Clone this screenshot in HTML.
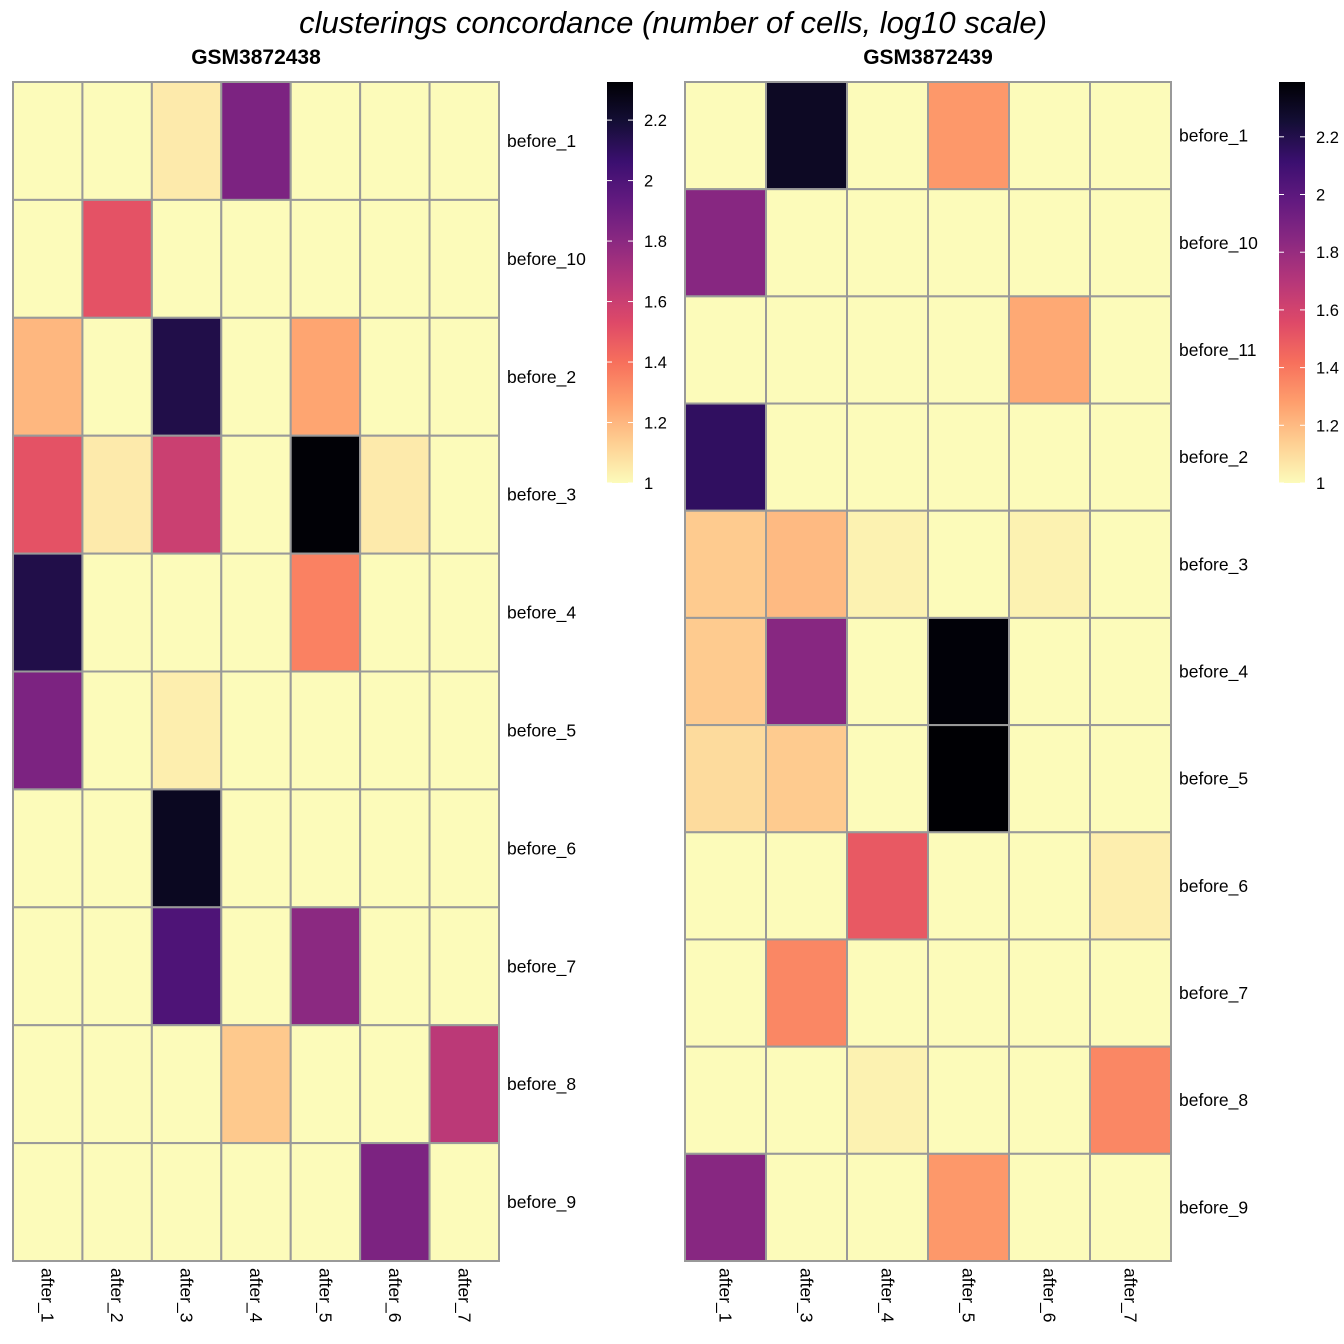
<!DOCTYPE html>
<html><head><meta charset="utf-8"><style>
html,body{margin:0;padding:0;background:#fff;}
svg{display:block;font-family:"Liberation Sans",Arial,sans-serif;}
</style></head><body>
<svg id="chart" width="1344" height="1344" viewBox="0 0 1344 1344">
<defs>
<linearGradient id="g1" x1="0" y1="1" x2="0" y2="0"></linearGradient>
<linearGradient id="g2" x1="0" y1="1" x2="0" y2="0"></linearGradient>
</defs>
<text x="673" y="33" text-anchor="middle" font-size="31" font-style="italic">clusterings concordance (number of cells, log10 scale)</text>
</svg>
<script>
const leftRows=["before_1","before_10","before_2","before_3","before_4","before_5","before_6","before_7","before_8","before_9"];
const leftCols=["after_1","after_2","after_3","after_4","after_5","after_6","after_7"];
const leftValues=[
[1,1,1.05,1.85,1,1,1],
[1,1.5,1,1,1,1,1],
[1.2,1,2.15,1,1.25,1,1],
[1.5,1.05,1.6,1,2.32,1.05,1],
[2.15,1,1,1,1.35,1,1],
[1.85,1,1.04,1,1,1,1],
[1,1,2.25,1,1,1,1],
[1,1,2.0,1,1.8,1,1],
[1,1,1,1.15,1,1,1.65],
[1,1,1,1,1,1.85,1]];
const leftTicks=[1,1.2,1.4,1.6,1.8,2,2.2];
const rightRows=["before_1","before_10","before_11","before_2","before_3","before_4","before_5","before_6","before_7","before_8","before_9"];
const rightCols=["after_1","after_3","after_4","after_5","after_6","after_7"];
const rightValues=[
[1,2.3,1,1.3,1,1],
[1.85,1,1,1,1,1],
[1,1,1,1,1.25,1],
[2.15,1,1,1,1,1],
[1.15,1.2,1.03,1,1.03,1],
[1.15,1.85,1,2.38,1,1],
[1.1,1.15,1,2.39,1,1],
[1,1,1.5,1,1,1.04],
[1,1.35,1,1,1,1],
[1,1,1.03,1,1,1.35],
[1.85,1,1,1.3,1,1]];
const rightTicks=[1,1.2,1.4,1.6,1.8,2,2.2];

const NS="http://www.w3.org/2000/svg";
const svg=document.getElementById('chart');
const magma=["#000004","#140e36","#3b0f70","#641a80","#8c2981","#b73779","#de4968","#f7705c","#fe9f6d","#fecf92","#fcfbba"];
function hex(h){return [1,3,5].map(i=>parseInt(h.substr(i,2),16));}
function mcol(t){t=Math.max(0,Math.min(1,t));const p=t*10,i=Math.min(9,Math.floor(p)),f=p-i;
 const a=hex(magma[i]),b=hex(magma[i+1]);return "rgb("+a.map((v,k)=>Math.round(v+(b[k]-v)*f)).join(",")+")";}
function el(tag,attrs,parent){const e=document.createElementNS(NS,tag);for(const k in attrs)e.setAttribute(k,attrs[k]);(parent||svg).appendChild(e);return e;}

function panel(o){
 const {title,rows,cols,vals,ticks,x0,x1,y0,y1,lx,vmax,gid,name}=o;
 const g=el('g',{});
 
 
 const cw=(x1-x0)/cols.length, rh=(y1-y0)/rows.length;
 const xs=j=>x0+j*cw, ys=i=>y0+i*rh;
 const color=v=>mcol(1-(v-1)/(vmax-1));
 const t=el('text',{x:(x0+x1)/2,y:64,'text-anchor':'middle','font-size':21,'font-weight':'bold'},g);
 t.textContent=title;
 
 
 rows.forEach((r,i)=>{cols.forEach((c,j)=>{
   const rc=el('rect',{x:xs(j),y:ys(i),width:cw,height:rh,fill:color(vals[i][j]),stroke:'#999',"stroke-width":2},g);
   
   
 });
  const lt=el('text',{x:x1+8,y:ys(i)+rh/2+6,'font-size':17.5},g);lt.textContent=r;
  
  
 });
 cols.forEach((c,j)=>{
  const cx=xs(j)+cw/2-6, cy=y1+7;
  const ct=el('text',{x:cx,y:cy,'font-size':17.5,transform:'rotate(90 '+cx+' '+cy+')'},g);ct.textContent=c;
  
  
 });
 const grad=document.getElementById(gid);
 for(let k=0;k<=20;k++){el('stop',{offset:(k/20),'stop-color':mcol(1-k/20)},grad);}
 const ly0=82, ly1=483;
 const lr=el('rect',{x:lx,y:ly0,width:26,height:ly1-ly0,fill:'url(#'+gid+')'},g);
 
 
 const ly=v=>ly1-(v-1)/(vmax-1)*(ly1-ly0);
 ticks.forEach(tv=>{
  el('line',{x1:lx,x2:lx+5,y1:ly(tv),y2:ly(tv),stroke:'#fff','stroke-width':1},g);
  el('line',{x1:lx+21,x2:lx+26,y1:ly(tv),y2:ly(tv),stroke:'#fff','stroke-width':1},g);
  const tt=el('text',{x:lx+37,y:ly(tv)+6,'font-size':16.5},g);tt.textContent=String(tv);
  
  
 });
}
panel({title:"GSM3872438",rows:leftRows,cols:leftCols,vals:leftValues,ticks:leftTicks,x0:13,x1:499,y0:82,y1:1261,lx:607,vmax:2.326,gid:'g1',name:'left-heatmap'});
panel({title:"GSM3872439",rows:rightRows,cols:rightCols,vals:rightValues,ticks:rightTicks,x0:685,x1:1171,y0:82,y1:1261,lx:1279,vmax:2.39,gid:'g2',name:'right-heatmap'});
</script>
</body></html>
